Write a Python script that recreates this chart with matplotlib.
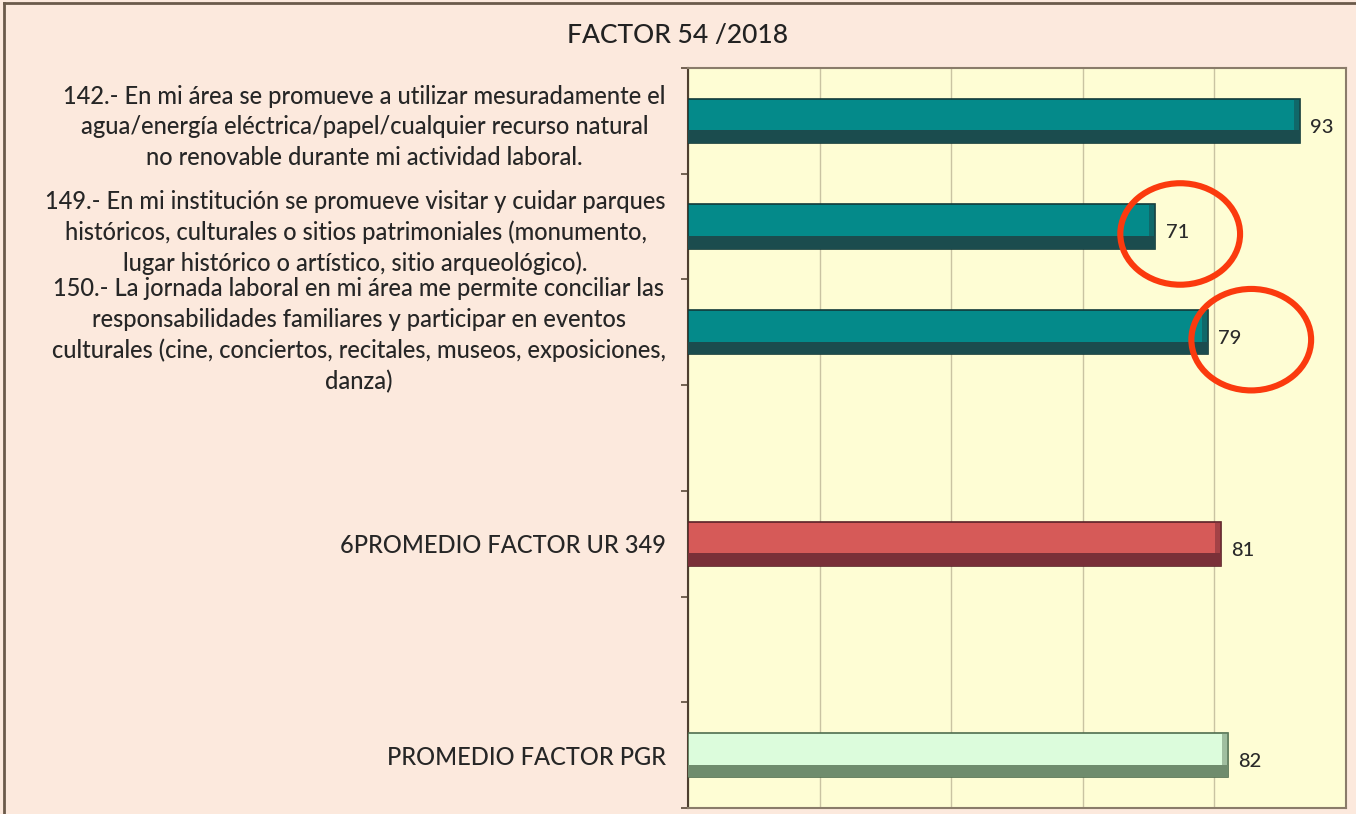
import matplotlib
matplotlib.use("Agg")
import matplotlib.pyplot as plt
import matplotlib.transforms as mtransforms
from matplotlib.patches import Ellipse
from matplotlib.lines import Line2D
import numpy as np

plt.rcParams['font.family'] = ['Lato', 'DejaVu Sans']

# data
labels = [
    "142.- En mi área se promueve a utilizar mesuradamente el\n"
    "agua/energía eléctrica/papel/cualquier recurso natural\n"
    "no renovable durante mi actividad laboral.",
    "149.- En mi institución se promueve visitar y cuidar parques\n"
    "históricos, culturales o sitios patrimoniales (monumento,\n"
    "lugar histórico o artístico, sitio arqueológico).",
    "150.- La jornada laboral en mi área me permite conciliar las\n"
    "responsabilidades familiares y participar en eventos\n"
    "culturales (cine, conciertos, recitales, museos, exposiciones,\n"
    "danza)",
    "",
    "6PROMEDIO FACTOR UR 349",
    "",
    "PROMEDIO FACTOR PGR",
]
values = [93, 71, 79, None, 81, None, 82]
face_colors = ["#048a8a", "#048a8a", "#048a8a", None, "#d65a58", None, "#dcfcdc"]
dark_colors = ["#1b4c4e", "#1b4c4e", "#1b4c4e", None, "#7a3038", None, "#6f8c6d"]
edge_colors = ["#123a3a", "#123a3a", "#123a3a", None, "#5a2228", None, "#4f6e4f"]
title = "FACTOR 54 /2018"
circled = [71, 79]

fig = plt.figure(figsize=(13.56, 8.14), dpi=100, facecolor="#fce9dd")
ax = fig.add_axes([688 / 1356, 6 / 814, (1346 - 688) / 1356, (808 - 68) / 814])
ax.set_facecolor("#fefdd4")

pos = np.arange(len(labels))
h = 0.42
d = 0.12
for i, v in enumerate(values):
    if v is None:
        continue
    ax.barh(pos[i], v, height=h, color=face_colors[i], edgecolor=edge_colors[i],
            linewidth=1.2, zorder=3)
    # darker lower band for the bevel look
    ax.barh(pos[i] + h / 2 - d / 2, v, height=d, color=dark_colors[i],
            linewidth=0, zorder=4)
    # thin right-end shade
    ax.barh(pos[i], 0.9, left=v - 0.9, height=h, color=dark_colors[i],
            alpha=0.55, linewidth=0, zorder=4)
    ax.text(v + 1.6, pos[i] + 0.06, str(v), va="center", ha="left",
            fontsize=14.5, fontweight="medium", color="#2a2a2a", zorder=5)

ax.set_xlim(0, 100)
ax.set_ylim(len(labels) - 0.5, -0.5)
ax.set_xticks(np.arange(0, 101, 20))
ax.tick_params(axis="x", length=0, labelbottom=False)
ax.grid(axis="x", color="#c9c3a2", linewidth=1.0, zorder=0)

ax.set_yticks(pos)
ax.set_yticklabels(labels, fontsize=17, fontweight="medium", color="#262626",
                   multialignment="center", linespacing=1.4)
ax.tick_params(axis="y", which="major", length=0, pad=16)
ax.set_yticks(np.arange(-0.5, len(labels), 1.0), minor=True)
ax.tick_params(axis="y", which="minor", length=5, width=1.2, color="#5a4a3a",
               direction="out")

# nudge the long third label up a little, as in the original
lab3 = ax.get_yticklabels()[2]
lab3.set_transform(lab3.get_transform() +
                   mtransforms.ScaledTranslation(0, 2 / 72, fig.dpi_scale_trans))

for s in ax.spines.values():
    s.set_color("#8a7c6a")
    s.set_linewidth(1.5)
ax.spines["left"].set_color("#4e3f30")

# red circles marking values
for v, row in zip(circled, [1, 2]):
    cx = v + 3.8 if v == 71 else v + 6.6
    ax.add_patch(Ellipse((cx, pos[row] + 0.07), 18.2, 0.96, fill=False,
                         edgecolor="#fb3a0e", linewidth=4.4, zorder=6))

fig.text(0.5, 1 - 35 / 814, title, ha="center", va="center", fontsize=19,
         fontweight="medium", color="#222222")

# outer frame lines (top and left)
fig.add_artist(Line2D([0.003, 1], [0.996, 0.996], transform=fig.transFigure,
                      color="#6b5a4a", linewidth=2))
fig.add_artist(Line2D([0.003, 0.003], [0, 0.996], transform=fig.transFigure,
                      color="#6b5a4a", linewidth=2))

fig.savefig("out.png", dpi=100, facecolor=fig.get_facecolor())
